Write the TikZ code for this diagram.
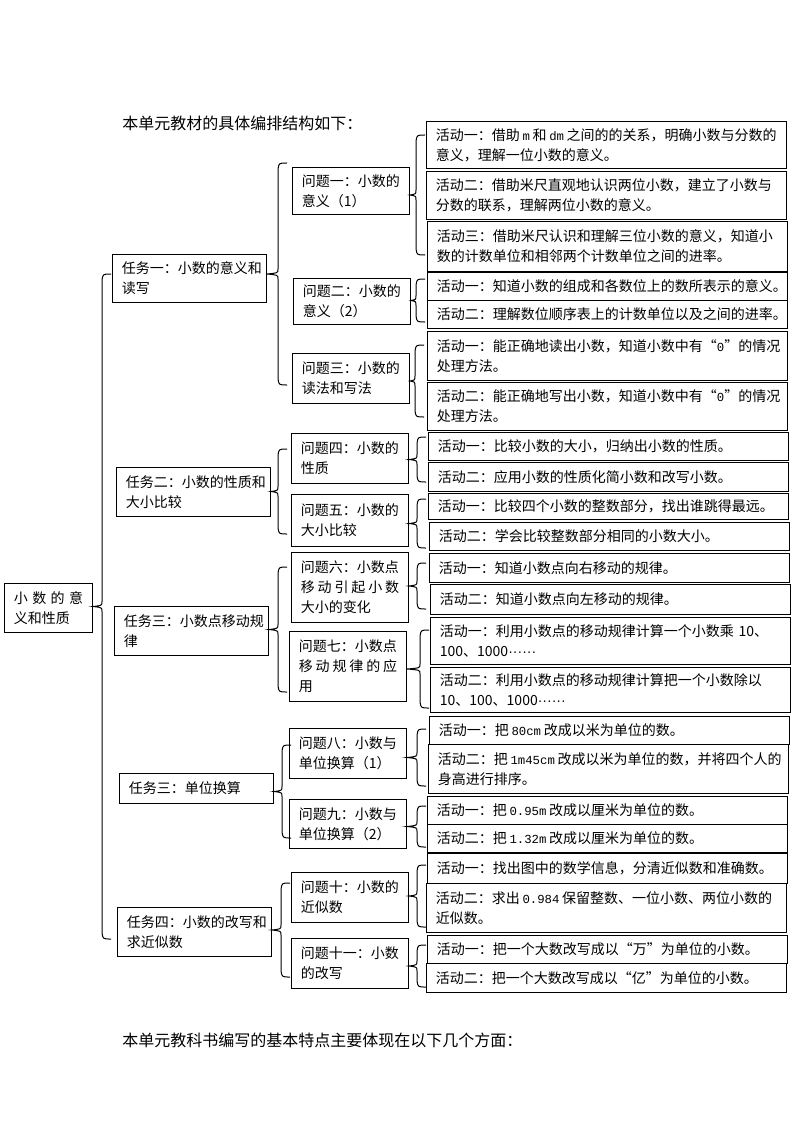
\documentclass[tikz,border=0pt]{standalone}
\usepackage{fontspec}
\setmainfont{Noto Sans CJK SC}
\newfontfamily\banjiao[Scale=0.88]{Liberation Mono}
\newfontfamily\diandian{Liberation Sans}
% a line spread over the full text width
\newcommand{\spreadline}[1]{\leavevmode\hbox to\hsize{#1}}
% half-width text with small gaps round it
\newcommand{\hw}[1]{\kern2pt{\banjiao #1}\kern2pt}
% curly brace: parent node, x of the stem, top, bottom
\newcommand{\kuohao}[4]{%
  \draw[kuohao line] (#2+9,#3) .. controls (#2+1,#3) .. (#2,#3+6)
    -- (#2,{(#3+#4)/2-5}) .. controls (#2,{(#3+#4)/2-1}) .. (#1.east |- 0,{(#3+#4)/2})
    .. controls (#2,{(#3+#4)/2+1}) .. (#2,{(#3+#4)/2+5})
    -- (#2,#4-6) .. controls (#2+1,#4) .. (#2+9,#4);
}
\begin{document}
\begin{tikzpicture}[x=0.75pt,y=-0.75pt,
box/.style={
% The shape:
rectangle,
draw=black,
line width=0.8pt,
anchor=north west,
align=left,
inner xsep=7pt,
inner ysep=0pt,
font=\fontsize{10.5}{15}\selectfont
},
huodong/.style={box,text width=256pt},
wenti/.style={box,text width=73.75pt},
renwu/.style={box,text width=101.5pt},
zhuti/.style={box,text width=52pt},
gao/.style={minimum height=#1*0.75pt},
plain text/.style={anchor=west,inner sep=0pt,font=\fontsize{12}{14}\selectfont},
kuohao line/.style={line width=0.75pt}
]
\useasboundingbox (0,0) rectangle (794,1123);
\node[plain text] (title) at (122,123) {本单元教材的具体编排结构如下：};
% root and tasks
\node[zhuti,gao=49] (unit) at (4,583) {\spreadline{小\hfill 数\hfill 的\hfill 意}\\义和性质};
\node[renwu,gao=48] (task1) at (112,254) {任务一：小数的意义和\\读写};
\node[renwu,gao=49] (task2) at (116,467) {任务二：小数的性质和\\大小比较};
\node[renwu,gao=49] (task3) at (114,606) {任务三：小数点移动规\\律};
\node[renwu,gao=30] (task4) at (119,773) {任务三：单位换算};
\node[renwu,gao=49] (task5) at (117,907) {任务四：小数的改写和\\求近似数};
% questions
\node[wenti,gao=47] (q1) at (292,167) {问题一：小数的\\意义（1）};
\node[wenti,gao=46] (q2) at (293,278) {问题二：小数的\\意义（2）};
\node[wenti,gao=50] (q3) at (292,353) {问题三：小数的\\读法和写法};
\node[wenti,gao=50] (q4) at (291,433) {问题四：小数的\\性质};
\node[wenti,gao=52] (q5) at (291,494) {问题五：小数的\\大小比较};
\node[wenti,gao=70] (q6) at (291,552) {问题六：小数点\\\spreadline{移\hfill 动\hfill 引\hfill 起\hfill 小\hfill 数}\\大小的变化};
\node[wenti,gao=70] (q7) at (289,631) {问题七：小数点\\\spreadline{移\hfill 动\hfill 规\hfill 律\hfill 的\hfill 应}\\用};
\node[wenti,gao=50] (q8) at (289,728) {问题八：小数与\\单位换算（1）};
\node[wenti,gao=49] (q9) at (289,799) {问题九：小数与\\单位换算（2）};
\node[wenti,gao=50] (q10) at (291,872) {问题十：小数的\\近似数};
\node[wenti,gao=50] (q11) at (291,938) {问题十一：小数\\的改写};
% activities
\node[huodong,gao=47] (act11) at (426,121) {活动一：借助\hw{m}和\hw{dm}之间的的关系，明确小数与分数的\\意义，理解一位小数的意义。};
\node[huodong,gao=48] (act12) at (426,171) {活动二：借助米尺直观地认识两位小数，建立了小数与\\分数的联系，理解两位小数的意义。};
\node[huodong,gao=50] (act13) at (427,221) {活动三：借助米尺认识和理解三位小数的意义，知道小\\数的计数单位和相邻两个计数单位之间的进率。};
\node[huodong,gao=28] (act21) at (427,272) {活动一：知道小数的组成和各数位上的数所表示的意义。};
\node[huodong,gao=28] (act22) at (427,300) {活动二：理解数位顺序表上的计数单位以及之间的进率。};
\node[huodong,gao=49] (act31) at (427,331) {活动一：能正确地读出小数，知道小数中有“{\banjiao 0}”的情况\\处理方法。};
\node[huodong,gao=48] (act32) at (427,382) {活动二：能正确地写出小数，知道小数中有“{\banjiao 0}”的情况\\处理方法。};
\node[huodong,gao=28] (act41) at (428,432) {活动一：比较小数的大小，归纳出小数的性质。};
\node[huodong,gao=29] (act42) at (428,462) {活动二：应用小数的性质化简小数和改写小数。};
\node[huodong,gao=26] (act51) at (428,493) {活动一：比较四个小数的整数部分，找出谁跳得最远。};
\node[huodong,gao=28] (act52) at (429,522) {活动二：学会比较整数部分相同的小数大小。};
\node[huodong,gao=29] (act61) at (429,553) {活动一：知道小数点向右移动的规律。};
\node[huodong,gao=30] (act62) at (430,584) {活动二：知道小数点向左移动的规律。};
\node[huodong,gao=47] (act71) at (430,617) {活动一：利用小数点的移动规律计算一个小数乘~10、\\100、1000{\diandian ······}};
\node[huodong,gao=45] (act72) at (430,667) {活动二：利用小数点的移动规律计算把一个小数除以\\10、100、1000{\diandian ······}};
\node[huodong,gao=28] (act81) at (429,716) {活动一：把\hw{80cm}改成以米为单位的数。};
\node[huodong,gao=49] (act82) at (428,744) {活动二：把\hw{1m45cm}改成以米为单位的数，并将四个人的\\身高进行排序。};
\node[huodong,gao=28] (act91) at (427,796) {活动一：把\hw{0.95m}改成以厘米为单位的数。};
\node[huodong,gao=28] (act92) at (427,824) {活动二：把\hw{1.32m}改成以厘米为单位的数。};
\node[huodong,gao=30] (act101) at (427,853) {活动一：找出图中的数学信息，分清近似数和准确数。};
\node[huodong,gao=49] (act102) at (426,883) {活动二：求出\hw{0.984}保留整数、一位小数、两位小数的\\近似数。};
\node[huodong,gao=28] (act111) at (427,935) {活动一：把一个大数改写成以“万”为单位的小数。};
\node[huodong,gao=29] (act112) at (426,963) {活动二：把一个大数改写成以“亿”为单位的小数。};
% braces
\kuohao{unit}{102}{274}{939}
\kuohao{task1}{278}{163}{385}
\kuohao{task2}{278}{449}{534}
\kuohao{task3}{278}{567}{692}
\kuohao{task4}{282}{745}{838}
\kuohao{task5}{281}{883}{977}
\kuohao{q1}{416}{135}{255}
\kuohao{q2}{416}{279}{322}
\kuohao{q3}{415}{345}{417}
\kuohao{q4}{417}{437}{482}
\kuohao{q5}{417}{499}{548}
\kuohao{q6}{417}{563}{609}
\kuohao{q7}{420}{630}{708}
\kuohao{q8}{417}{729}{786}
\kuohao{q9}{417}{806}{847}
\kuohao{q10}{417}{865}{927}
\kuohao{q11}{417}{945}{987}
\node[plain text] (features) at (122,1040) {本单元教科书编写的基本特点主要体现在以下几个方面：};
\end{tikzpicture}
\end{document}
